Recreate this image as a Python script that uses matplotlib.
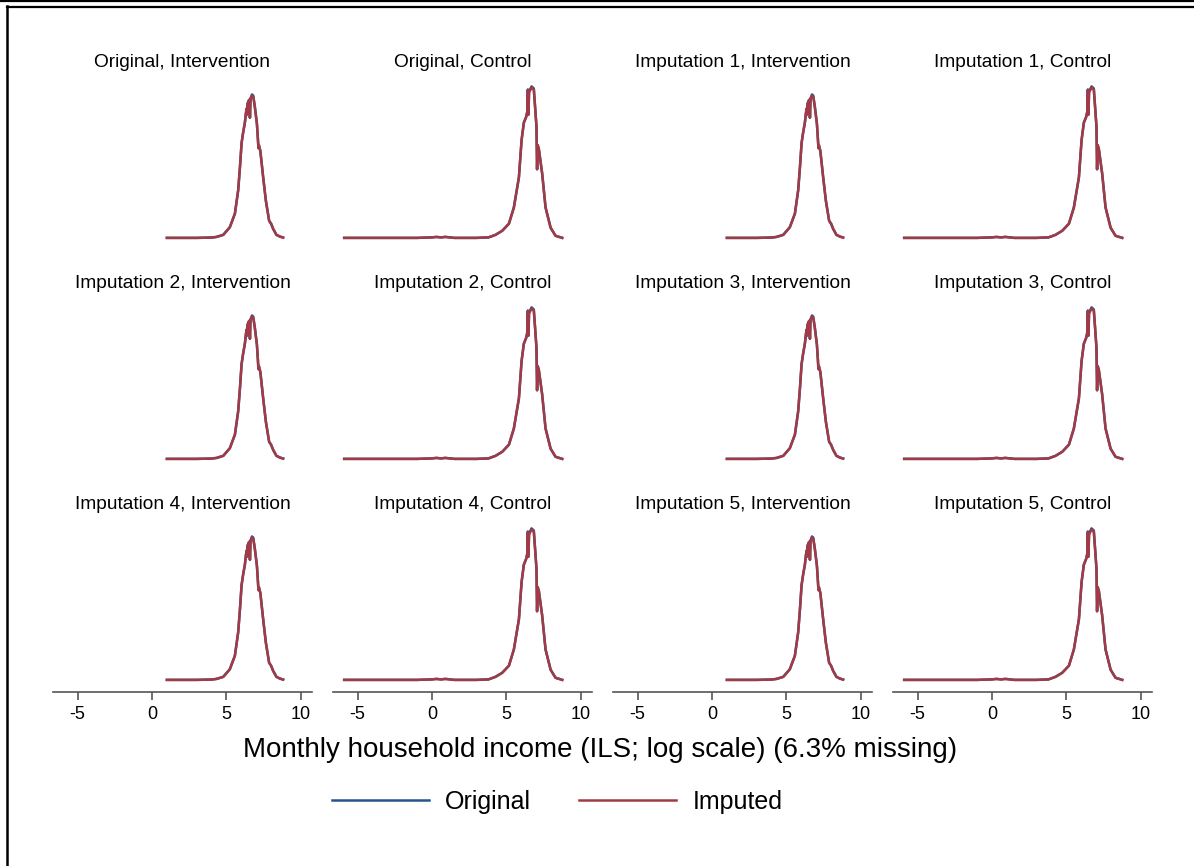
import numpy as np
import matplotlib.pyplot as plt
from matplotlib.lines import Line2D

plt.rcParams['font.family'] = ['Liberation Sans', 'DejaVu Sans']
plt.rcParams['axes.unicode_minus'] = False

# panel titles, row by row
titles = ['Original, Intervention', 'Original, Control',
          'Imputation 1, Intervention', 'Imputation 1, Control',
          'Imputation 2, Intervention', 'Imputation 2, Control',
          'Imputation 3, Intervention', 'Imputation 3, Control',
          'Imputation 4, Intervention', 'Imputation 4, Control',
          'Imputation 5, Intervention', 'Imputation 5, Control']

# kernel density of log income, intervention arm
int_x = [1.0, 2.0, 3.0, 4.0, 4.34, 4.79, 5.23, 5.57, 5.79, 5.91, 6.02, 6.12,
         6.24, 6.30, 6.35, 6.38, 6.42, 6.50, 6.55, 6.58, 6.62, 6.72, 6.80,
         6.90, 7.05, 7.12, 7.15, 7.18, 7.28, 7.47, 7.65, 7.87, 8.00, 8.14,
         8.36, 8.60, 8.81]
int_orig = [0.0, 0.0, 0.0, 0.002, 0.006, 0.019, 0.066, 0.150, 0.294, 0.438,
            0.588, 0.650, 0.713, 0.763, 0.800, 0.763, 0.831, 0.850, 0.856,
            0.744, 0.863, 0.888, 0.881, 0.819, 0.706, 0.606, 0.556, 0.575,
            0.538, 0.375, 0.231, 0.106, 0.088, 0.056, 0.019, 0.008, 0.002]
int_imp = [0.0, 0.0, 0.0, 0.002, 0.006, 0.019, 0.066, 0.150, 0.294, 0.438,
           0.588, 0.650, 0.713, 0.763, 0.800, 0.763, 0.831, 0.850, 0.856,
           0.744, 0.863, 0.881, 0.875, 0.819, 0.706, 0.606, 0.556, 0.575,
           0.538, 0.375, 0.231, 0.106, 0.088, 0.056, 0.019, 0.008, 0.002]

# kernel density of log income, control arm
ctl_x = [-5.9, -3.0, -1.0, 0.0, 0.3, 0.6, 0.9, 1.5, 3.0, 3.8, 4.27, 4.72,
         5.17, 5.50, 5.84, 6.02, 6.17, 6.33, 6.40, 6.44, 6.48, 6.52, 6.69,
         6.84, 6.95, 7.02, 7.06, 7.10, 7.18, 7.40, 7.63, 7.97, 8.30, 8.75]
ctl_orig = [0.0, 0.0, 0.0, 0.003, 0.006, 0.003, 0.006, 0.0, 0.0, 0.003,
            0.019, 0.044, 0.088, 0.188, 0.375, 0.606, 0.713, 0.750, 0.781,
            0.919, 0.763, 0.906, 0.938, 0.925, 0.781, 0.688, 0.425, 0.575,
            0.550, 0.400, 0.188, 0.063, 0.013, 0.0]
ctl_imp = [0.0, 0.0, 0.0, 0.003, 0.006, 0.003, 0.006, 0.0, 0.0, 0.003,
           0.019, 0.044, 0.088, 0.188, 0.375, 0.606, 0.713, 0.750, 0.781,
           0.913, 0.763, 0.900, 0.931, 0.919, 0.781, 0.688, 0.425, 0.575,
           0.550, 0.400, 0.188, 0.063, 0.013, 0.0]

xticks = [-5, 0, 5, 10]
blue = '#27548a'
red = '#a23a45'

W, H = 1194, 866
fig = plt.figure(figsize=(W / 100, H / 100), dpi=100)

col_left = [53, 333, 613, 893]
row_bottom = [250, 471, 692]
ax_w, ax_h = 259, 172

for i, title in enumerate(titles):
    r, c = divmod(i, 4)
    ax = fig.add_axes([col_left[c] / W, 1 - row_bottom[r] / H,
                       ax_w / W, ax_h / H])
    if c % 2 == 0:
        x, yo, yi = int_x, int_orig, int_imp
    else:
        x, yo, yi = ctl_x, ctl_orig, ctl_imp
    ax.plot(x, yo, color=blue, lw=1.8)
    ax.plot(x, yi, color=red, lw=1.8)
    ax.set_xlim(-6.65, 10.75)
    ax.set_ylim(-0.075, 0.99)
    ax.set_title(title, fontsize=13.8, pad=8)
    for s in ['top', 'right', 'left']:
        ax.spines[s].set_visible(False)
    ax.set_yticks([])
    if r == 2:
        ax.spines['bottom'].set_color('#555555')
        ax.spines['bottom'].set_linewidth(1.2)
        ax.set_xticks(xticks)
        ax.tick_params(axis='x', length=6, width=1.2, color='#555555',
                       labelsize=13, pad=4)
    else:
        ax.spines['bottom'].set_visible(False)
        ax.set_xticks([])

fig.text(600 / W, 1 - 750 / H,
         'Monthly household income (ILS; log scale) (6.3% missing)',
         fontsize=20, ha='center', va='center')

handles = [Line2D([], [], color=blue, lw=1.8),
           Line2D([], [], color=red, lw=1.8)]
fig.legend(handles, ['Original', 'Imputed'], loc='center',
           bbox_to_anchor=(557 / W, 1 - 802 / H), ncol=2, frameon=False,
           fontsize=18, handlelength=3.9, handletextpad=0.65,
           columnspacing=1.9)

# frame lines from the screenshot
fig.add_artist(Line2D([0, 1], [1 - 1 / H, 1 - 1 / H], color='black', lw=1.6))
fig.add_artist(Line2D([6.5 / W, 1], [1 - 7 / H, 1 - 7 / H], color='black', lw=1.6))
fig.add_artist(Line2D([7 / W, 7 / W], [1 - 6 / H, 0], color='black', lw=1.8))

fig.savefig('out.png', dpi=100)
